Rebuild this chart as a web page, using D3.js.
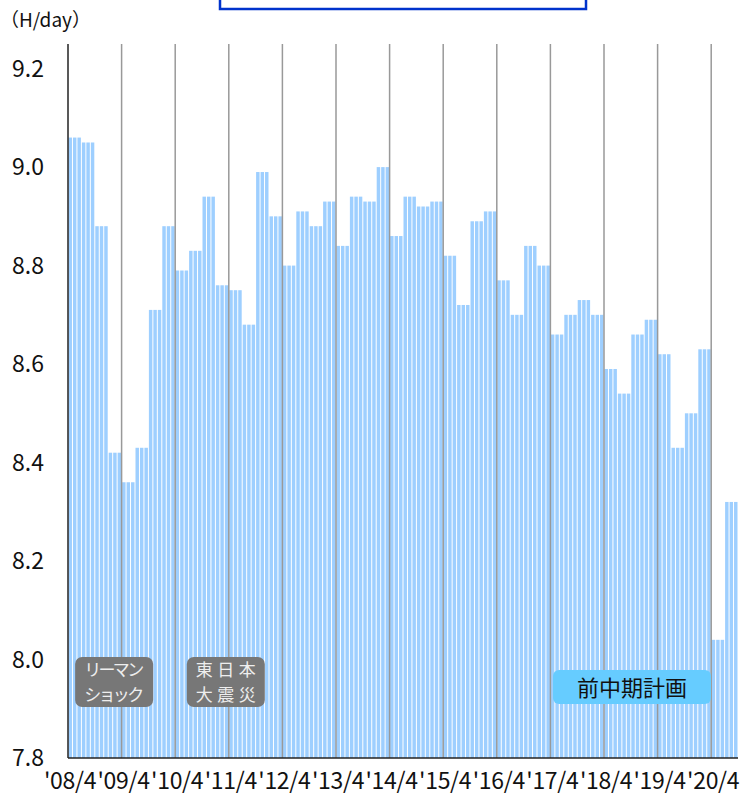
<!DOCTYPE html>
<html>
<head>
<meta charset="utf-8">
<script src="https://cdn.jsdelivr.net/npm/d3@7"></script>
<style>
  body { margin: 0; background: #fff; }
  text { font-family: "Noto Sans CJK JP", "Noto Sans", sans-serif; }
</style>
</head>
<body>
<script>
// quarterly values, fiscal '08 Q1 (Apr) .. '20 Q2
let quarterValues = [
  9.06, 9.05, 8.88, 8.42,
  8.36, 8.43, 8.71, 8.88,
  8.79, 8.83, 8.94, 8.76,
  8.75, 8.68, 8.99, 8.90,
  8.80, 8.91, 8.88, 8.93,
  8.84, 8.94, 8.93, 9.00,
  8.86, 8.94, 8.92, 8.93,
  8.82, 8.72, 8.89, 8.91,
  8.77, 8.70, 8.84, 8.80,
  8.66, 8.70, 8.73, 8.70,
  8.59, 8.54, 8.66, 8.69,
  8.62, 8.43, 8.50, 8.63,
  8.04, 8.32
];
let yearLabels = ["'08/4", "'09/4", "'10/4", "'11/4", "'12/4", "'13/4", "'14/4",
  "'15/4", "'16/4", "'17/4", "'18/4", "'19/4", "'20/4"];
let yTicks = [7.8, 8.0, 8.2, 8.4, 8.6, 8.8, 9.0, 9.2];
let events = [
  { lines: ["リーマン", "ショック"], month: 1.6 },
  { lines: ["東日本", "大震災"], month: 26.6 }
];
let planLabel = "前中期計画";
let unitLabel = "（H/day）";

// every month in a quarter carries that quarter's value
let months = [];
quarterValues.forEach((v, q) => {
  for (let m = 0; m < 3; m++) months.push({ i: q * 3 + m, value: v });
});

let svgWidth = 744;
let svgHeight = 796;

let svg = d3.select('body')
  .append('svg')
  .attr('width', svgWidth)
  .attr('height', svgHeight);

let x = d3.scaleLinear()
  .domain([0, months.length])
  .range([68, 738]);

let y = d3.scaleLinear()
  .domain([7.8, 9.25])
  .range([758, 44]);

let step = x(1) - x(0);

// bars
svg.append('g')
  .selectAll('rect')
  .data(months)
  .enter()
  .append('rect')
  .attr('x', d => x(d.i) + 0.5)
  .attr('width', step - 1)
  .attr('y', d => y(d.value))
  .attr('height', d => y(7.8) - y(d.value))
  .attr('fill', '#9ecfff');

// year separators
svg.append('g')
  .selectAll('line')
  .data(d3.range(1, yearLabels.length))
  .enter()
  .append('line')
  .attr('x1', k => x(k * 12))
  .attr('x2', k => x(k * 12))
  .attr('y1', y(9.25))
  .attr('y2', y(7.8))
  .attr('stroke', '#999')
  .attr('stroke-width', 1.5);

// axes lines
svg.append('line')
  .attr('x1', x(0)).attr('x2', x(0))
  .attr('y1', y(9.25)).attr('y2', y(7.8))
  .attr('stroke', '#222').attr('stroke-width', 1.5);
svg.append('line')
  .attr('x1', x(0)).attr('x2', x(months.length))
  .attr('y1', y(7.8)).attr('y2', y(7.8))
  .attr('stroke', '#222').attr('stroke-width', 1.5);

// y tick labels
svg.append('g')
  .selectAll('text')
  .data(yTicks)
  .enter()
  .append('text')
  .attr('x', 44)
  .attr('y', d => y(d) + 8)
  .attr('text-anchor', 'end')
  .attr('font-size', '23px')
  .attr('fill', '#111')
  .text(d => d.toFixed(1));

// x labels
svg.append('g')
  .selectAll('text')
  .data(yearLabels)
  .enter()
  .append('text')
  .attr('x', (d, k) => x(k * 12) + 2)
  .attr('y', 789)
  .attr('text-anchor', 'middle')
  .attr('font-size', '23px')
  .attr('letter-spacing', '-0.3px')
  .attr('fill', '#111')
  .text(d => d);

// event boxes
let ev = svg.append('g')
  .selectAll('g')
  .data(events)
  .enter()
  .append('g')
  .attr('transform', d => `translate(${x(d.month)}, 657)`);

ev.append('rect')
  .attr('width', 78)
  .attr('height', 50)
  .attr('rx', 7)
  .attr('fill', '#777');

ev.each(function (d) {
  d3.select(this).selectAll('text')
    .data(d.lines)
    .enter()
    .append('text')
    .attr('x', 39)
    .attr('y', (t, j) => 19 + j * 25)
    .attr('text-anchor', 'middle')
    .attr('font-size', '17px')
    .attr('textLength', 60)
    .attr('lengthAdjust', 'spacing')
    .attr('fill', '#eee')
    .text(t => t);
});

// plan label
svg.append('rect')
  .attr('x', 553).attr('y', 670)
  .attr('width', 158).attr('height', 34)
  .attr('rx', 6)
  .attr('fill', '#66ccff');
svg.append('text')
  .attr('x', 632).attr('y', 696)
  .attr('text-anchor', 'middle')
  .attr('font-size', '22px')
  .attr('fill', '#111')
  .text(planLabel);

// unit
svg.append('text')
  .attr('x', 0).attr('y', 27)
  .attr('font-size', '19px')
  .attr('fill', '#111')
  .text(unitLabel);

// title frame (cut off at top)
svg.append('rect')
  .attr('x', 220).attr('y', -20)
  .attr('width', 366).attr('height', 29)
  .attr('fill', 'none')
  .attr('stroke', '#0033cc')
  .attr('stroke-width', 2.5);
</script>
</body>
</html>
